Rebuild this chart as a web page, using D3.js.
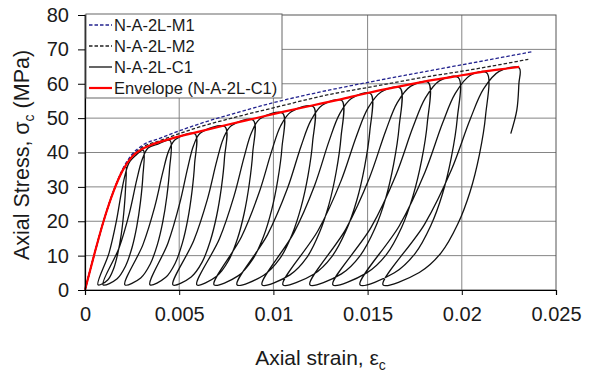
<!DOCTYPE html>
<html>
<head>
<meta charset="utf-8">
<script src="https://cdn.jsdelivr.net/npm/d3@7"></script>
<style>
  body { margin: 0; background: #fff; }
  svg { font-family: "Liberation Sans", Arial, sans-serif; }
</style>
</head>
<body>
<div id="chart"></div>
<script>
const xTicks = [0, 0.005, 0.01, 0.015, 0.02, 0.025];
const yTicks = [0, 10, 20, 30, 40, 50, 60, 70, 80];

// monotonic test curves M1 / M2 (strain, MPa)
const seriesM1 = [[0,0],[0.0005,10.5],[0.001,20.3],[0.0015,28.6],[0.002,35.2],[0.0025,39.5],[0.003,41.9],[0.004,44.2],[0.006,48.2],[0.008,51.5],[0.01,54.5],[0.013,58.2],[0.0153,60.7],[0.018,63.5],[0.0204,65.9],[0.02371,69.3]];
const seriesM2 = [[0,0],[0.0005,10.5],[0.001,20.3],[0.0015,28.5],[0.002,34.9],[0.0025,39.1],[0.003,41.4],[0.004,43.5],[0.006,47.3],[0.008,50.3],[0.01,53.0],[0.013,56.9],[0.0153,59.2],[0.018,61.9],[0.0204,64.0],[0.02353,67.1]];

// envelope of the cyclic test
const envelopeC1 = [[0,0],[0.0005,10.5],[0.001,20.3],[0.0015,28.5],[0.002,34.8],[0.0025,38.8],[0.003,40.9],[0.0035,42.2],[0.0045,43.9],[0.006,46],[0.0075,48],[0.009,49.9],[0.0105,51.8],[0.012,53.6],[0.0135,55.4],[0.015,57.3],[0.0165,59],[0.018,60.6],[0.0195,62],[0.021,63.4],[0.0225,64.5],[0.02305,64.9]];

// cyclic test C1: first loading, then each unload/reload loop, then last unloading
const c1Loading = [[0,0],[0.0005,10.5],[0.001,20.3],[0.0015,28.5],[0.002,34.8]];
const c1Cycles = [
  [[0.00216,35.8],[0.002145,28.9],[0.002057,22.4],[0.001925,16.2],[0.001748,10.8],[0.001513,6.1],[0.001205,2.9],[0.00069,1.5],[0.001278,10.8],[0.00166,19.9],[0.001925,28.2],[0.002116,33.2],[0.002336,37.0],[0.0027,39.2]],
  [[0.00309,40.7],[0.003069,32.9],[0.002941,25.5],[0.002749,18.5],[0.002494,12.3],[0.002153,7.0],[0.001706,3.3],[0.00096,1.5],[0.001812,12.3],[0.002366,22.6],[0.002749,32.1],[0.003026,37.8],[0.003346,41.3],[0.0039,42.5]],
  [[0.00451,43.5],[0.004486,35.1],[0.004343,27.2],[0.004128,19.8],[0.003841,13.2],[0.003458,7.5],[0.002957,3.5],[0.00212,1.5],[0.003076,13.2],[0.003697,24.1],[0.004128,34.2],[0.004438,40.4],[0.004797,43.8]],
  [[0.00584,45.4],[0.005816,36.6],[0.005673,28.4],[0.005458,20.6],[0.005171,13.7],[0.004788,7.8],[0.004287,3.7],[0.00345,1.5],[0.004406,13.7],[0.005027,25.2],[0.005458,35.7],[0.005768,42.1],[0.006127,45.7]],
  [[0.00743,47.5],[0.007402,38.3],[0.007237,29.7],[0.006988,21.6],[0.006657,14.4],[0.006216,8.1],[0.005636,3.8],[0.00467,1.5],[0.005774,14.4],[0.006492,26.3],[0.006988,37.4],[0.007347,44.1],[0.007761,47.8]],
  [[0.00893,49.4],[0.0089,39.8],[0.008721,30.9],[0.008452,22.4],[0.008093,14.9],[0.007614,8.5],[0.006987,4.0],[0.00594,1.5],[0.007136,14.9],[0.007913,27.4],[0.008452,38.8],[0.00884,45.8],[0.009289,49.8]],
  [[0.01049,51.4],[0.010454,41.4],[0.010235,32.1],[0.009908,23.3],[0.009471,15.5],[0.008888,8.8],[0.008124,4.1],[0.00685,1.5],[0.008306,15.5],[0.009252,28.5],[0.009908,40.4],[0.010381,47.7],[0.010927,51.8]],
  [[0.01212,53.3],[0.01208,43.0],[0.011837,33.3],[0.011472,24.2],[0.010986,16.1],[0.010338,9.1],[0.009488,4.3],[0.00807,1.5],[0.00969,16.1],[0.010743,29.5],[0.011472,41.9],[0.011999,49.4],[0.012606,53.8]],
  [[0.01363,55.1],[0.013588,44.4],[0.013334,34.4],[0.012953,25.0],[0.012446,16.7],[0.011769,9.4],[0.010881,4.4],[0.0094,1.5],[0.011092,16.7],[0.012192,30.5],[0.012953,43.3],[0.013503,51.1],[0.014138,55.7]],
  [[0.01516,57.1],[0.015114,46.0],[0.014835,35.7],[0.014416,25.9],[0.013858,17.3],[0.013114,9.8],[0.012138,4.6],[0.01051,1.5],[0.01237,17.3],[0.013579,31.6],[0.014416,44.9],[0.01502,52.9],[0.015718,57.6]],
  [[0.01672,58.8],[0.016672,47.4],[0.016385,36.7],[0.015955,26.6],[0.015382,17.8],[0.014617,10.1],[0.013613,4.7],[0.01194,1.5],[0.013852,17.8],[0.015095,32.6],[0.015955,46.2],[0.016577,54.5],[0.017294,59.3]],
  [[0.01822,60.4],[0.018169,48.6],[0.017866,37.7],[0.01741,27.4],[0.016803,18.2],[0.015994,10.3],[0.014931,4.9],[0.01316,1.5],[0.015184,18.2],[0.0165,33.4],[0.01741,47.4],[0.018068,55.9],[0.018827,60.9]],
  [[0.01981,61.8],[0.019758,49.8],[0.019445,38.6],[0.018976,28.0],[0.018351,18.7],[0.017518,10.6],[0.016424,5.0],[0.0146,1.5],[0.016684,18.7],[0.018039,34.2],[0.018976,48.5],[0.019654,57.2],[0.020435,62.4]],
  [[0.02132,63.2],[0.021265,50.9],[0.020935,39.4],[0.02044,28.6],[0.01978,19.1],[0.0189,10.8],[0.017745,5.1],[0.01582,1.5],[0.01802,19.1],[0.01945,35.0],[0.02044,49.6],[0.021155,58.5],[0.02198,63.6]]
];
const c1Final = [[0.02305,64.6],[0.02303,60],[0.02292,52.3],[0.0226,45.5]];

const legendItems = [
  { label: 'N-A-2L-M1', color: '#23238f', dash: '3.5,2', width: 1.3 },
  { label: 'N-A-2L-M2', color: '#222', dash: '3.5,2', width: 1.3 },
  { label: 'N-A-2L-C1', color: '#111', dash: null, width: 1.3 },
  { label: 'Envelope (N-A-2L-C1)', color: '#ff0000', dash: null, width: 2.2 }
];

const width = 593, height = 378;
const margin = { top: 15, right: 37, bottom: 88, left: 85 };
const w = width - margin.left - margin.right;
const h = height - margin.top - margin.bottom;

const svg = d3.select('#chart').append('svg')
  .attr('width', width)
  .attr('height', height);

const g = svg.append('g').attr('transform', `translate(${margin.left},${margin.top})`);

const x = d3.scaleLinear().domain([0, 0.025]).range([0, w]);
const y = d3.scaleLinear().domain([0, 80]).range([h, 0]);

// grid
g.append('g')
  .selectAll('line')
  .data(xTicks.slice(1, -1))
  .join('line')
  .attr('x1', (d) => x(d)).attr('x2', (d) => x(d))
  .attr('y1', 0).attr('y2', h)
  .attr('stroke', '#858585').attr('stroke-width', 1);

g.append('g')
  .selectAll('line')
  .data(yTicks.slice(1, -1))
  .join('line')
  .attr('x1', 0).attr('x2', w)
  .attr('y1', (d) => y(d)).attr('y2', (d) => y(d))
  .attr('stroke', '#858585').attr('stroke-width', 1);

// cyclic curve
const loop = d3.line().x((d) => x(d[0])).y((d) => y(d[1])).curve(d3.curveCatmullRom.alpha(0.5));
const c1Path = c1Loading.concat(...c1Cycles, c1Final);
g.append('path')
  .datum(c1Path)
  .attr('d', loop)
  .attr('fill', 'none')
  .attr('stroke', '#111')
  .attr('stroke-width', 1.3)
  .attr('stroke-linejoin', 'round');

const smooth = d3.line().x((d) => x(d[0])).y((d) => y(d[1])).curve(d3.curveMonotoneX);

g.append('path')
  .datum(seriesM2)
  .attr('d', smooth)
  .attr('fill', 'none')
  .attr('stroke', legendItems[1].color)
  .attr('stroke-width', 1.3)
  .attr('stroke-dasharray', '3.5,2');

g.append('path')
  .datum(seriesM1)
  .attr('d', smooth)
  .attr('fill', 'none')
  .attr('stroke', legendItems[0].color)
  .attr('stroke-width', 1.3)
  .attr('stroke-dasharray', '3.5,2');

g.append('path')
  .datum(envelopeC1)
  .attr('d', smooth)
  .attr('fill', 'none')
  .attr('stroke', '#ff0000')
  .attr('stroke-width', 2.2);

// frame
g.append('rect')
  .attr('x', 0).attr('y', 0).attr('width', w).attr('height', h)
  .attr('fill', 'none').attr('stroke', '#555').attr('stroke-width', 1);

// axes
const xAxis = g.append('g')
  .attr('transform', `translate(0,${h})`)
  .call(d3.axisBottom(x).tickValues(xTicks).tickSize(5).tickPadding(12).tickFormat((d) => String(d)));

const yAxis = g.append('g')
  .call(d3.axisLeft(y).tickValues(yTicks).tickSize(7).tickPadding(9));

[xAxis, yAxis].forEach((a) => {
  a.select('.domain').attr('stroke', '#000').attr('stroke-width', 1.2);
  a.selectAll('.tick line').attr('stroke', '#000');
  a.selectAll('.tick text').attr('fill', '#1a1a1a').attr('font-size', '20px');
});

// axis titles
const xt = svg.append('text')
  .attr('x', margin.left + w / 2)
  .attr('y', 365)
  .attr('text-anchor', 'middle')
  .attr('font-size', '21px')
  .attr('fill', '#1a1a1a');
xt.append('tspan').text('Axial strain, ε');
xt.append('tspan').attr('font-size', '14px').attr('dy', 5).text('c');

const yt = svg.append('text')
  .attr('transform', `translate(29,155) rotate(-90)`)
  .attr('text-anchor', 'middle')
  .attr('font-size', '21.5px')
  .attr('fill', '#1a1a1a');
yt.append('tspan').text('Axial Stress, σ');
yt.append('tspan').attr('font-size', '14px').attr('dy', 5).text('c');
yt.append('tspan').attr('dy', -5).text(' (MPa)');

// legend
const lg = svg.append('g').attr('transform', 'translate(86,14)');
lg.append('rect')
  .attr('width', 196).attr('height', 84)
  .attr('fill', '#fff').attr('stroke', '#666').attr('stroke-width', 1);

const rows = lg.selectAll('g')
  .data(legendItems)
  .join('g')
  .attr('transform', (d, i) => `translate(0,${11 + i * 21})`);

rows.append('line')
  .attr('x1', 3).attr('x2', 26)
  .attr('stroke', (d) => d.color)
  .attr('stroke-width', (d) => d.width)
  .attr('stroke-dasharray', (d) => d.dash);

rows.append('text')
  .attr('x', 28)
  .attr('y', 5.5)
  .attr('font-size', '16.5px')
  .attr('fill', '#1a1a1a')
  .text((d) => d.label);
</script>
</body>
</html>
